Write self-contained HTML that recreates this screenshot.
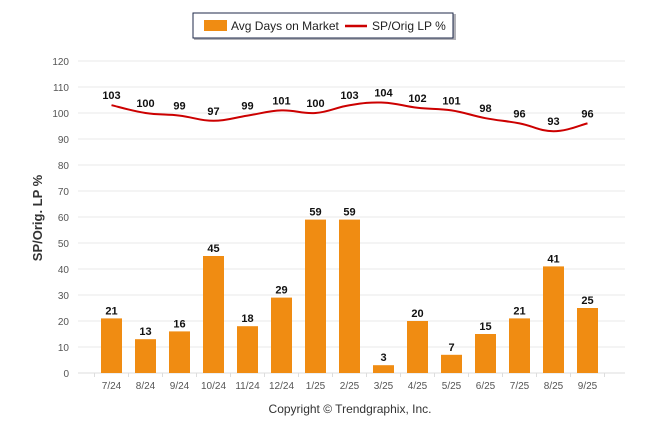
<!DOCTYPE html>
<html><head><meta charset="utf-8"><style>
body{margin:0;background:#fff;font-family:"Liberation Sans",sans-serif}
svg text{font-family:"Liberation Sans",sans-serif}
</style></head><body>
<svg width="646" height="434">
<g>
<rect x="194" y="14" width="262" height="26" fill="#223" opacity="0.35"/>
<rect x="193" y="13" width="260" height="25" fill="#fff" stroke="#1f2a4a" stroke-width="1"/>
<rect x="204" y="20" width="23" height="11" fill="#f08c12"/>
<text x="231" y="30" font-size="12" fill="#222">Avg Days on Market</text>
<line x1="345" y1="26" x2="367" y2="26" stroke="#cc0000" stroke-width="2.5"/>
<text x="372" y="30" font-size="12" fill="#222">SP/Orig LP %</text>
</g>
<text transform="translate(42,218) rotate(-90)" text-anchor="middle" font-size="13" font-weight="bold" fill="#333">SP/Orig. LP %</text>
<g id="grid"></g><g id="bars"></g><g id="line"></g>
<text x="350" y="413" text-anchor="middle" font-size="12" fill="#333">Copyright © Trendgraphix, Inc.</text>
</svg>
<script>
const categories=["7/24","8/24","9/24","10/24","11/24","12/24","1/25","2/25","3/25","4/25","5/25","6/25","7/25","8/25","9/25"];
const daysOnMarket=[21,13,16,45,18,29,59,59,3,20,7,15,21,41,25];
const spOrigLP=[103,100,99,97,99,101,100,103,104,102,101,98,96,93,96];
const yTicks=[0,10,20,30,40,50,60,70,80,90,100,110,120];
const NS="http://www.w3.org/2000/svg";
const y=v=>373-v*2.6, x=i=>111.5+34*i;
function mk(t,a,p){const e=document.createElementNS(NS,t);for(const k in a)e.setAttribute(k,a[k]);p.appendChild(e);return e;}
const g=document.getElementById('grid'),b=document.getElementById('bars'),l=document.getElementById('line');
yTicks.forEach(v=>{
 const ln=mk('line',{x1:78,x2:625,y1:y(v),y2:y(v),stroke:v?'#e8e8e8':'#ddd','stroke-width':1},g);
 
 
 const t=mk('text',{x:69,y:y(v)+4,'text-anchor':'end','font-size':10,fill:'#555'},g);t.textContent=v;
 
 
});
for(let i=0;i<=categories.length;i++){
 const tk=mk('line',{x1:x(i)-17,x2:x(i)-17,y1:373,y2:377,stroke:'#ddd'},g);
 
 
}
categories.forEach((c,i)=>{
 const t=mk('text',{x:x(i),y:389,'text-anchor':'middle','font-size':10,fill:'#555'},g);t.textContent=c;
 
 
 const v=daysOnMarket[i];
 const r=mk('rect',{x:x(i)-10.5,y:y(v),width:21,height:v*2.6,fill:'#f08c12'},b);
 
 
 const bt=mk('text',{x:x(i),y:y(v)-4,'text-anchor':'middle','font-size':11,'font-weight':'bold',fill:'#111'},b);bt.textContent=v;
 
 
});
const pts=spOrigLP.map((v,i)=>[x(i),y(v)]);
let d='M'+pts[0][0]+' '+pts[0][1];
for(let i=0;i<pts.length-1;i++){
 const p0=pts[Math.max(0,i-1)],p1=pts[i],p2=pts[i+1],p3=pts[Math.min(pts.length-1,i+2)],k=0.2;
 d+=` C${p1[0]+(p2[0]-p0[0])*k} ${p1[1]+(p2[1]-p0[1])*k} ${p2[0]-(p3[0]-p1[0])*k} ${p2[1]-(p3[1]-p1[1])*k} ${p2[0]} ${p2[1]}`;
}
const p=mk('path',{d:d,fill:'none',stroke:'#cc0000','stroke-width':2,'stroke-linejoin':'round'},l);


spOrigLP.forEach((v,i)=>{
 const t=mk('text',{x:x(i),y:y(v)-6,'text-anchor':'middle','font-size':11,'font-weight':'bold',fill:'#111'},l);t.textContent=v;
 
 
});
</script>
</body></html>
